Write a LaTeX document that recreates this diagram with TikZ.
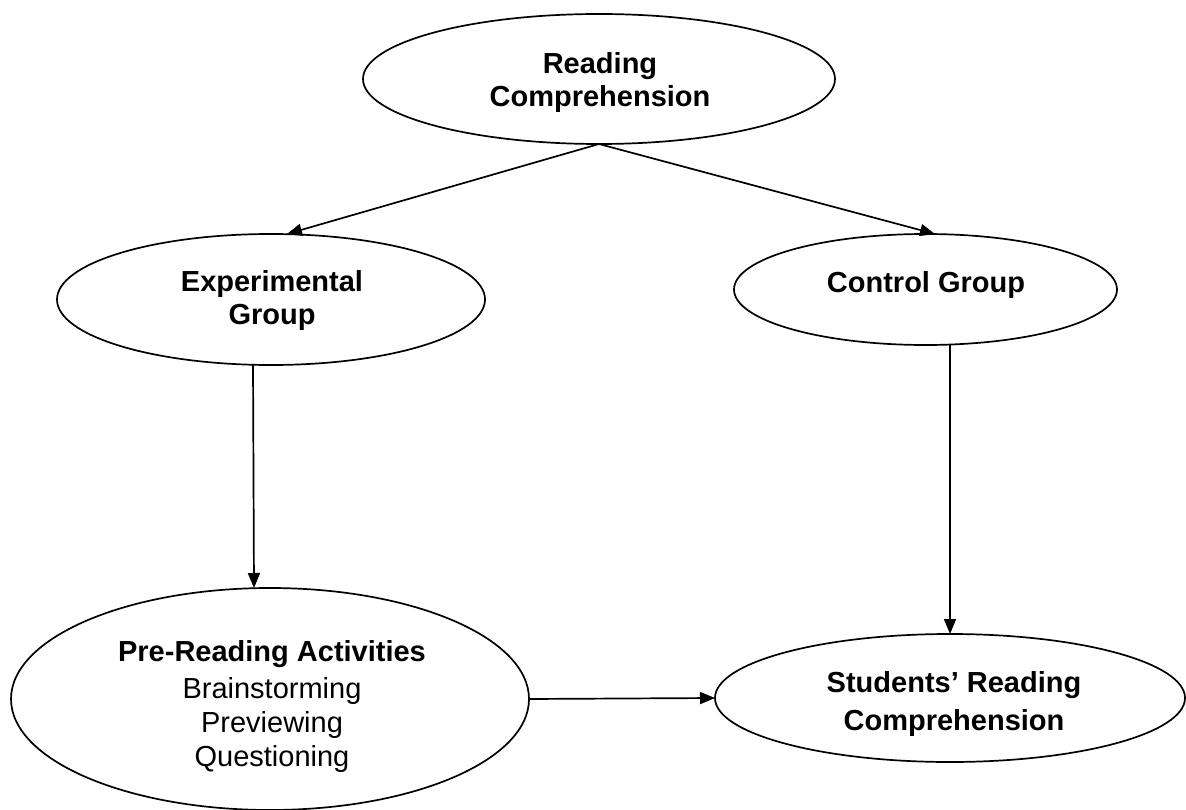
\documentclass[tikz,border=0pt]{standalone}
\usepackage{fontspec}
\setmainfont{Liberation Sans}
\usetikzlibrary{shapes.geometric,arrows.meta}
\begin{document}
\begin{tikzpicture}[x=1pt,y=-1pt,
  oval/.style={ellipse,draw,line width=1.7pt,inner sep=0pt,outer sep=0pt},
  label/.style={anchor=base,inner sep=0pt,font=\fontsize{29}{34}\selectfont},
  arr/.style={line width=1.7pt,-{Triangle[length=15pt,width=12pt]}}]
\useasboundingbox (0,0) rectangle (1186,810);
% ellipses
\node[oval,minimum width=472pt,minimum height=130pt] (top) at (599,79) {};
\node[oval,minimum width=428pt,minimum height=131pt] (exp) at (271,299.5) {};
\node[oval,minimum width=383pt,minimum height=111pt] (ctrl) at (925.5,289.5) {};
\node[oval,minimum width=518pt,minimum height=222pt] (pre) at (270,699) {};
\node[oval,minimum width=470pt,minimum height=128pt] (stud) at (950,698) {};
% texts, placed by the baseline of their first line
\node[label] (toptext) at (600,74)
  {\begin{tabular}[t]{@{}c@{}}\textbf{Reading}\\[-1pt]\textbf{Comprehension}\end{tabular}};
\node[label] (exptext) at (272,292)
  {\begin{tabular}[t]{@{}c@{}}\textbf{Experimental}\\[-1pt]\textbf{Group}\end{tabular}};
\node[label] (ctrltext) at (926,293) {\textbf{Control Group}};
\node[label] (pretext) at (272,661)
  {\begin{tabular}[t]{@{}c@{}}\textbf{Pre-Reading Activities}\\[3pt]
   Brainstorming\\ Previewing\\ Questioning\end{tabular}};
\node[label] (studtext) at (954,692)
  {\begin{tabular}[t]{@{}c@{}}\textbf{Students’ Reading}\\[4pt]
   \textbf{Comprehension}\end{tabular}};
% connectors
\draw[arr] (top.south) -- ([xshift=16pt]exp.north);
\draw[arr] (top.south) -- ([xshift=9.5pt]ctrl.north);
\draw[arr] ([xshift=-18pt]exp.south) -- ([xshift=-16pt]pre.north);
\draw[arr] (stud.north |- ctrl.south) -- (stud.north);
\draw[arr] (pre.east) -- (stud.west);
\end{tikzpicture}
\end{document}
